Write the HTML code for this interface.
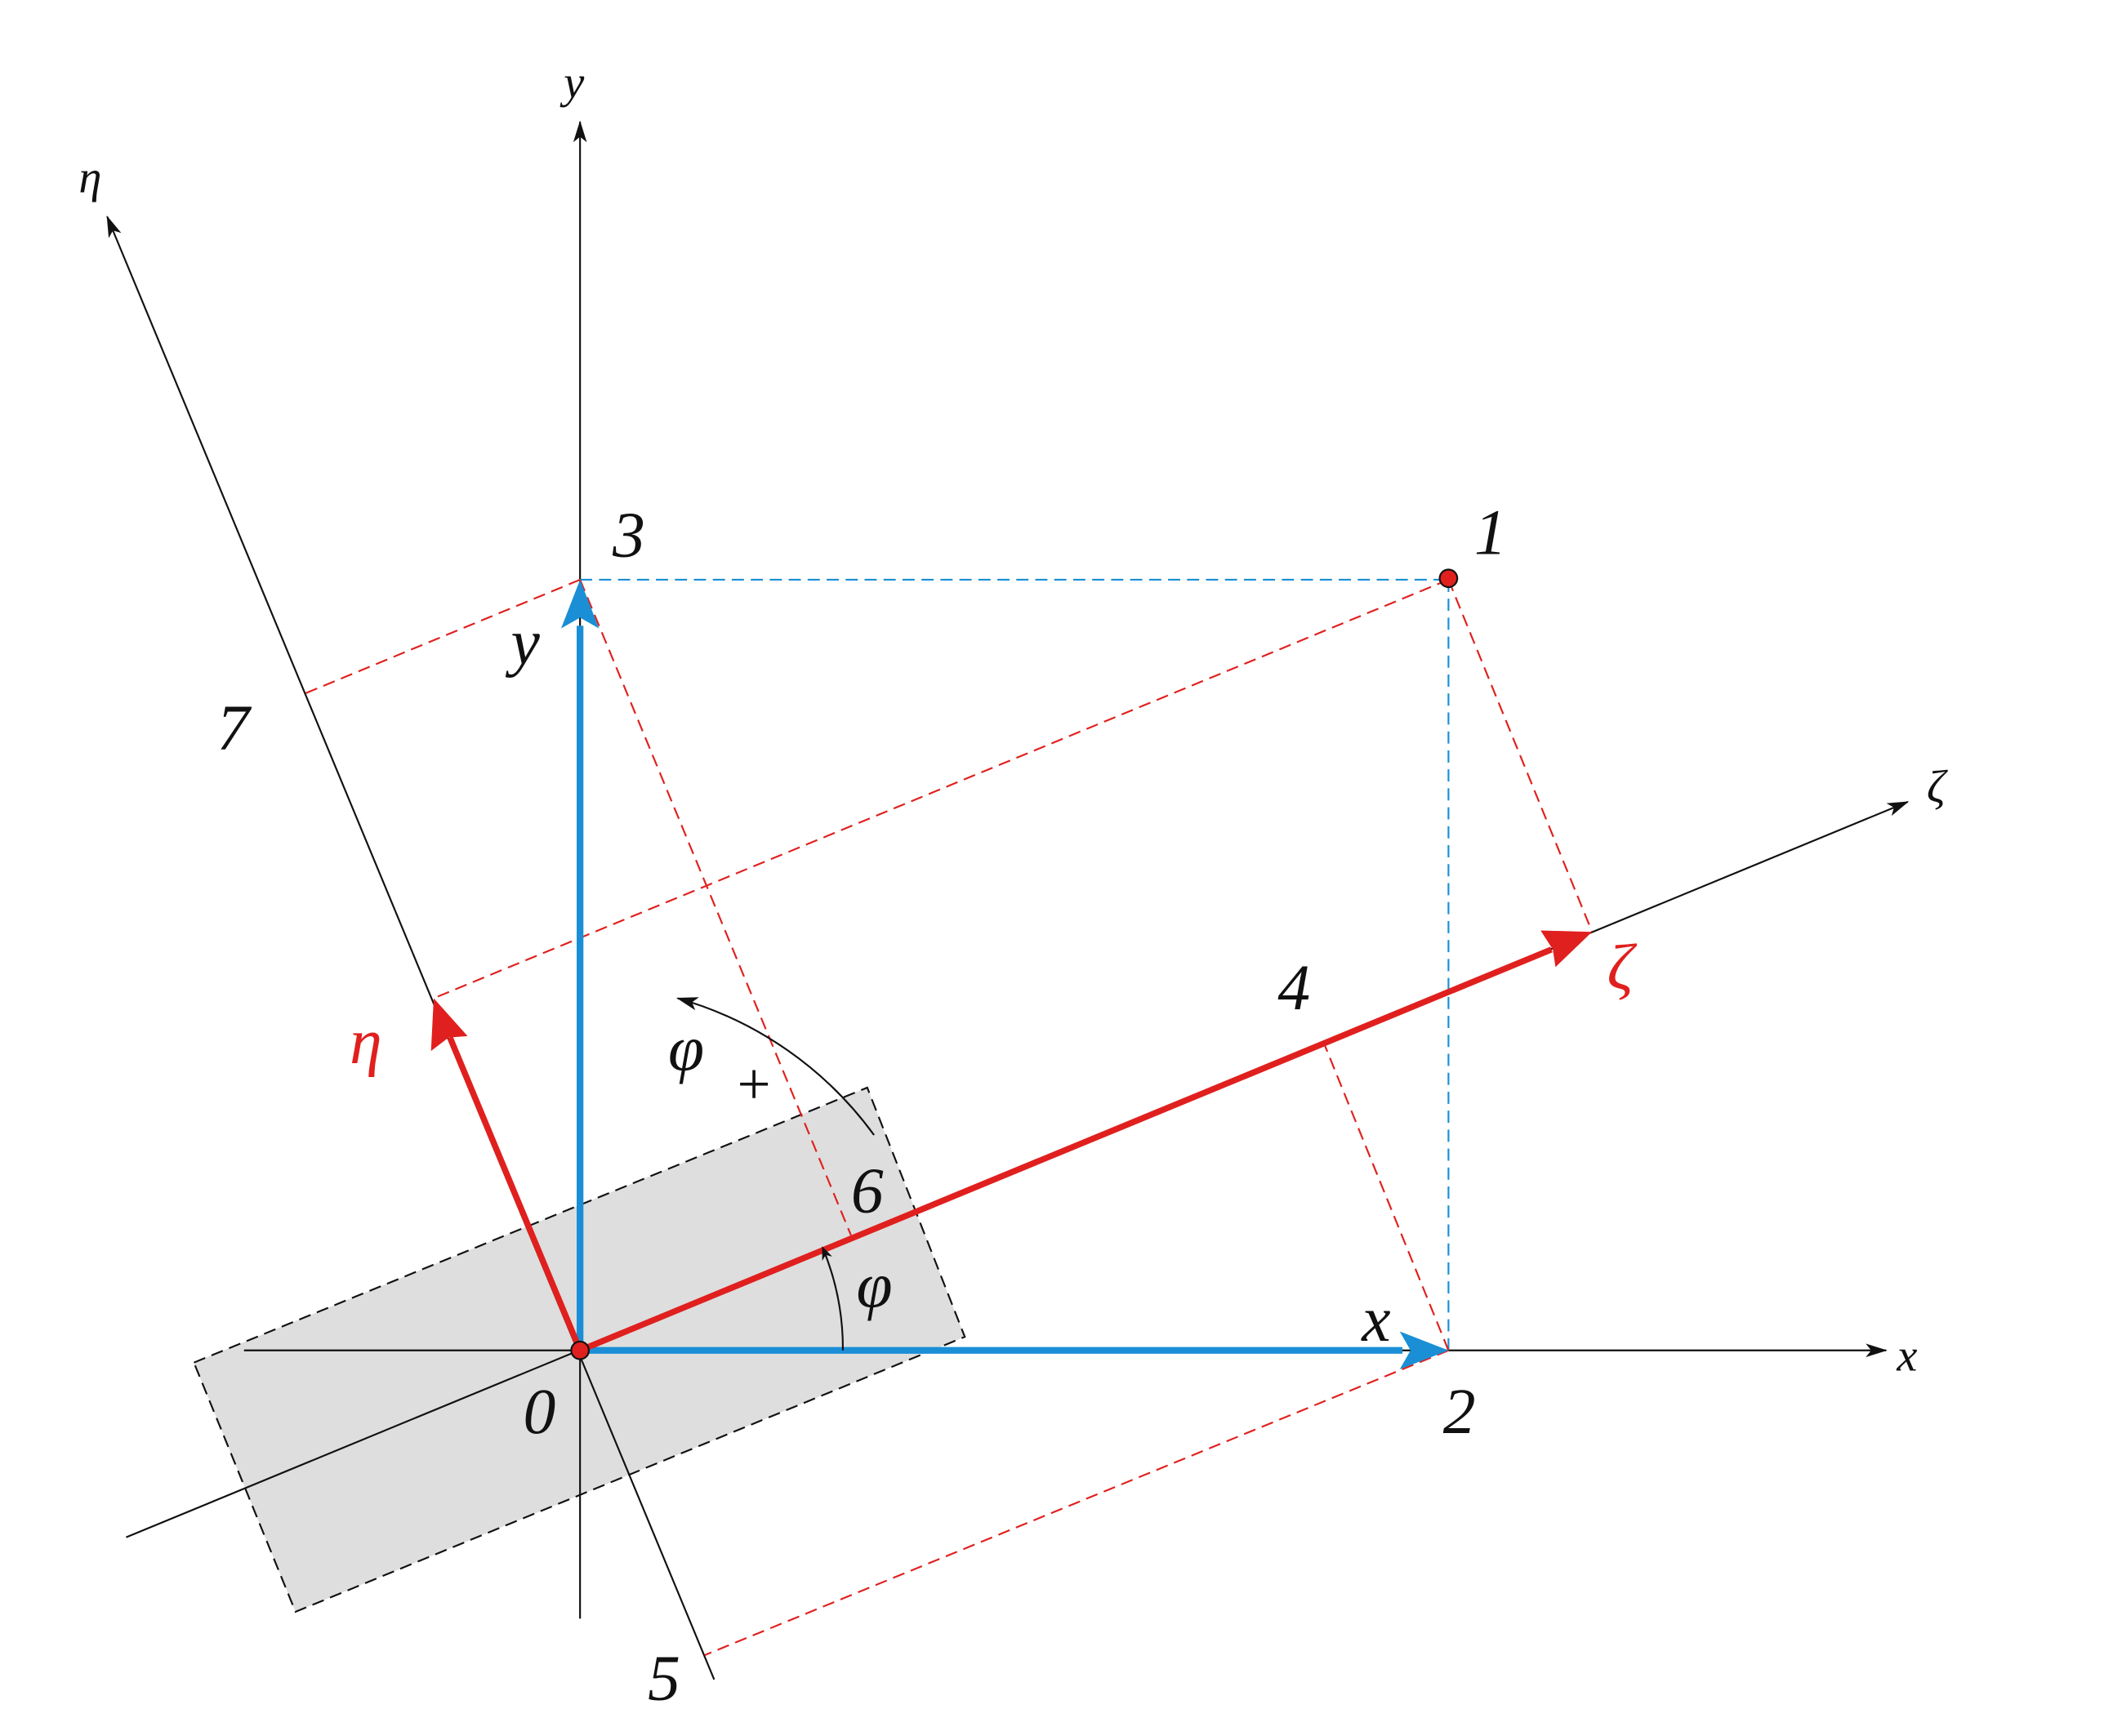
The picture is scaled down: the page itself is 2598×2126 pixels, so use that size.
<!DOCTYPE html>
<html><head><meta charset="utf-8"><style>html,body{margin:0;padding:0;background:#fff}svg{display:block}text{font-family:"Liberation Serif",serif;font-style:italic}</style></head>
<body>
<svg width="2598" height="2126" viewBox="0 0 1566 1281.7" xmlns="http://www.w3.org/2000/svg">
<defs>
<marker id="ab" markerWidth="10" markerHeight="8" refX="9" refY="4" orient="auto" markerUnits="userSpaceOnUse"><path d="M0,0 L10,4 L0,8 L3,4z" fill="#111"/></marker>
<marker id="ab2" markerWidth="16" markerHeight="10" refX="15" refY="5" orient="auto" markerUnits="userSpaceOnUse"><path d="M0,0 L16,5 L0,10 L4,5z" fill="#111"/></marker>
</defs>
<rect width="1566" height="1282" fill="#fff"/>
<polygon points="143,1006 640,803 712,987 218,1190" fill="#dedede" stroke="#111" stroke-width="1.3" stroke-dasharray="9,5"/>
<line x1="428" y1="1195" x2="428" y2="90" stroke="#111" stroke-width="1.3" marker-end="url(#ab2)"/>
<line x1="180" y1="997" x2="1392" y2="997" stroke="#111" stroke-width="1.3" marker-end="url(#ab2)"/>
<line x1="93" y1="1135" x2="1408" y2="592" stroke="#111" stroke-width="1.3" marker-end="url(#ab2)"/>
<line x1="527" y1="1240" x2="79" y2="160" stroke="#111" stroke-width="1.3" marker-end="url(#ab2)"/>
<g stroke="#1a8fd6" stroke-width="1.3" stroke-dasharray="9,5" fill="none">
<line x1="428" y1="428" x2="1069" y2="428"/>
<line x1="1069" y1="428" x2="1069" y2="997"/>
</g>
<g stroke="#e0201e" stroke-width="1.3" stroke-dasharray="9,5" fill="none">
<line x1="428" y1="428" x2="225" y2="512"/>
<line x1="1069" y1="428" x2="320" y2="737"/>
<line x1="1069" y1="428" x2="1175" y2="688"/>
<line x1="428" y1="428" x2="628" y2="912"/>
<line x1="1069" y1="997" x2="977" y2="770"/>
<line x1="1069" y1="997" x2="520" y2="1222"/>
</g>
<line x1="428" y1="997" x2="428" y2="462" stroke="#1a8fd6" stroke-width="5"/>
<polygon points="428,428 414,464 428,456 442,464" fill="#1a8fd6"/>
<line x1="428" y1="997" x2="1035" y2="997" stroke="#1a8fd6" stroke-width="5"/>
<polygon points="1069,997 1033,983 1041,997 1033,1011" fill="#1a8fd6"/>
<line x1="428" y1="997" x2="1145" y2="701" stroke="#e0201e" stroke-width="4.5"/>
<polygon points="1175,688 1137,687 1146,701 1148,714" fill="#e0201e"/>
<line x1="428" y1="997" x2="332" y2="766" stroke="#e0201e" stroke-width="4.5"/>
<polygon points="320,737 318,776 331,766 345,765" fill="#e0201e"/>
<path d="M622,997 A194,194 0 0 0 607,921" fill="none" stroke="#111" stroke-width="1.3" marker-end="url(#ab)"/>
<path d="M645,838 A270,270 0 0 0 500,737" fill="none" stroke="#111" stroke-width="1.3" marker-end="url(#ab2)"/>
<circle cx="1069" cy="427" r="6.5" fill="#e0201e" stroke="#111" stroke-width="1.3"/>
<circle cx="428" cy="997" r="6.5" fill="#e0201e" stroke="#111" stroke-width="1.3"/>
<g font-size="48" fill="#111">
<text x="452" y="411">3</text>
<text x="1088" y="409">1</text>
<text x="160" y="553">7</text>
<text x="943" y="745">4</text>
<text x="628" y="895">6</text>
<text x="386" y="1058">0</text>
<text x="1065" y="1058">2</text>
<text x="478" y="1255">5</text>
<text x="377" y="490">y</text>
<text x="1005" y="990">x</text>
<text x="493" y="790">φ</text>
<text x="632" y="965">φ</text>
</g>
<text x="544" y="815" font-size="44" fill="#111" style="font-style:normal">+</text>
<text x="258" y="785" font-size="48" fill="#e0201e">η</text>
<text x="1186" y="730" font-size="48" fill="#e0201e">ζ</text>
<g font-size="34" fill="#111">
<text x="416" y="72">y</text>
<text x="58" y="142">η</text>
<text x="1422" y="592">ζ</text>
<text x="1400" y="1012">x</text>
</g>
</svg>
</body></html>
